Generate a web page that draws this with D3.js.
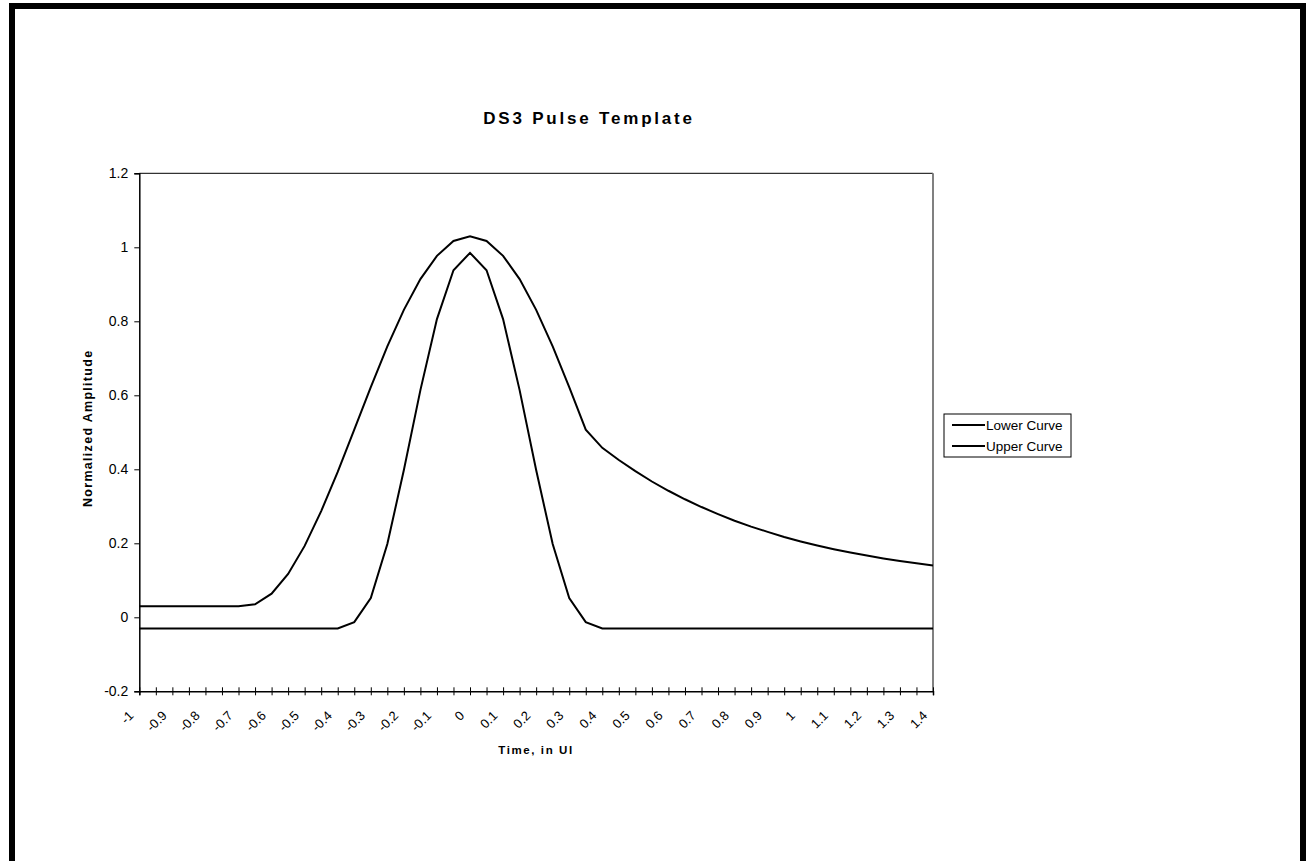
<!DOCTYPE html>
<html>
<head>
<meta charset="utf-8">
<script src="https://cdn.jsdelivr.net/npm/d3@7/dist/d3.min.js"></script>
<style>
  html, body { margin: 0; padding: 0; background: #fff; }
  svg { display: block; }
  text { font-family: "Liberation Sans", Arial, sans-serif; fill: #000; }
</style>
</head>
<body>
<svg id="chart" width="1306" height="861"></svg>
<script>
// ---- data ----
const timeCategories = [
  "-1","-0.95","-0.9","-0.85","-0.8","-0.75","-0.7","-0.65","-0.6","-0.55",
  "-0.5","-0.45","-0.4","-0.35","-0.3","-0.25","-0.2","-0.15","-0.1","-0.05",
  "0","0.05","0.1","0.15","0.2","0.25","0.3","0.35","0.4","0.45",
  "0.5","0.55","0.6","0.65","0.7","0.75","0.8","0.85","0.9","0.95",
  "1","1.05","1.1","1.15","1.2","1.25","1.3","1.35","1.4"
];
const xTickLabels = ["-1","-0.9","-0.8","-0.7","-0.6","-0.5","-0.4","-0.3","-0.2","-0.1",
  "0","0.1","0.2","0.3","0.4","0.5","0.6","0.7","0.8","0.9","1","1.1","1.2","1.3","1.4"];
const lowerCurve = [
  -0.03,-0.03,-0.03,-0.03,-0.03,-0.03,-0.03,-0.03,-0.03,-0.03,
  -0.03,-0.03,-0.03,-0.013,0.052,0.198,0.398,0.614,0.806,0.938,
  0.985,0.938,0.806,0.614,0.398,0.198,0.052,-0.013,-0.03,-0.03,
  -0.03,-0.03,-0.03,-0.03,-0.03,-0.03,-0.03,-0.03,-0.03,-0.03,
  -0.03,-0.03,-0.03,-0.03,-0.03,-0.03,-0.03,-0.03,-0.03
];
const upperCurve = [
  0.03,0.03,0.03,0.03,0.03,0.03,0.03,0.035,0.064,0.117,
  0.193,0.287,0.393,0.507,0.622,0.732,0.831,0.914,0.977,1.017,
  1.03,1.017,0.977,0.914,0.831,0.732,0.622,0.507,0.458,0.425,
  0.395,0.367,0.342,0.319,0.298,0.279,0.261,0.245,0.231,0.217,
  0.205,0.194,0.184,0.175,0.167,0.159,0.152,0.146,0.140
];
const yTicks = [-0.2, 0, 0.2, 0.4, 0.6, 0.8, 1, 1.2];
const yTickLabels = ["-0.2", "0", "0.2", "0.4", "0.6", "0.8", "1", "1.2"];
const seriesNames = ["Lower Curve", "Upper Curve"];

// ---- layout ----
const svg = d3.select("#chart");
const plot = { left: 139.3, right: 933, top: 173.3, bottom: 691.3 };

// outer frame
svg.append("rect").attr("x", 9).attr("y", 3).attr("width", 1297).attr("height", 6).attr("fill", "#000");
svg.append("rect").attr("x", 9).attr("y", 3).attr("width", 6).attr("height", 858).attr("fill", "#000");
svg.append("rect").attr("x", 1300).attr("y", 3).attr("width", 6).attr("height", 858).attr("fill", "#000");

const x = d3.scalePoint().domain(timeCategories).range([plot.left, plot.right]);
const y = d3.scaleLinear().domain([-0.2, 1.2]).range([plot.bottom, plot.top]);

// plot area border (top and right)
svg.append("line").attr("x1", plot.left).attr("x2", plot.right).attr("y1", plot.top).attr("y2", plot.top)
  .attr("stroke", "#000").attr("stroke-width", 1);
svg.append("line").attr("x1", plot.right).attr("x2", plot.right).attr("y1", plot.top).attr("y2", plot.bottom)
  .attr("stroke", "#808080").attr("stroke-width", 2);

// y axis
const yAxis = svg.append("g").attr("transform", `translate(${plot.left},0)`)
  .call(d3.axisLeft(y).tickValues(yTicks).tickSize(5).tickPadding(6)
    .tickFormat((d, i) => yTickLabels[i]));
yAxis.select(".domain").attr("stroke", "#000").attr("stroke-width", 1.5);
yAxis.selectAll(".tick line").attr("stroke", "#000");
yAxis.selectAll(".tick text").attr("font-size", 14).attr("font-family", "Liberation Sans, Arial, sans-serif");

// x axis (cross ticks)
const xAxis = svg.append("g").attr("transform", `translate(0,${plot.bottom})`)
  .call(d3.axisBottom(x).tickSize(4).tickFormat(""));
xAxis.select(".domain").attr("stroke", "#000").attr("stroke-width", 1.5);
xAxis.selectAll(".tick line").attr("y1", -4).attr("y2", 4).attr("stroke", "#000");

// x tick labels (every other category)
const labelG = svg.append("g");
xTickLabels.forEach(lbl => {
  const tx = x(lbl);
  labelG.append("text")
    .attr("transform", `translate(${tx - 8},${plot.bottom + 22}) rotate(-45)`)
    .attr("text-anchor", "end")
    .attr("dominant-baseline", "central")
    .attr("font-size", 13)
    .text(lbl);
});

// lines
const lineGen = d3.line().x((d, i) => x(timeCategories[i])).y(d => y(d));
[lowerCurve, upperCurve].forEach(vals => {
  svg.append("path").datum(vals).attr("d", lineGen)
    .attr("fill", "none").attr("stroke", "#000").attr("stroke-width", 2).attr("stroke-linejoin", "miter");
});

// titles
svg.append("text").attr("x", 589).attr("y", 124).attr("text-anchor", "middle")
  .attr("font-size", 17).attr("font-weight", "bold").attr("letter-spacing", 2.8)
  .text("DS3 Pulse Template");
svg.append("text").attr("x", 536).attr("y", 754).attr("text-anchor", "middle")
  .attr("font-size", 11.5).attr("font-weight", "bold").attr("letter-spacing", 1.6)
  .text("Time, in UI");
svg.append("text").attr("transform", `translate(92,${(plot.top + plot.bottom) / 2 - 4}) rotate(-90)`)
  .attr("text-anchor", "middle")
  .attr("font-size", 12.5).attr("font-weight", "bold").attr("letter-spacing", 1.3)
  .text("Normalized Amplitude");

// legend
const lg = svg.append("g").attr("transform", "translate(944,414)");
lg.append("rect").attr("x", 0).attr("y", 0).attr("width", 127).attr("height", 43)
  .attr("fill", "#fff").attr("stroke", "#000").attr("stroke-width", 1);
seriesNames.forEach((name, i) => {
  const cy = 11 + i * 21;
  lg.append("line").attr("x1", 8).attr("x2", 41).attr("y1", cy).attr("y2", cy)
    .attr("stroke", "#000").attr("stroke-width", 2);
  lg.append("text").attr("x", 42).attr("y", cy).attr("dominant-baseline", "central")
    .attr("font-size", 13.5).text(name);
});
</script>
</body>
</html>
